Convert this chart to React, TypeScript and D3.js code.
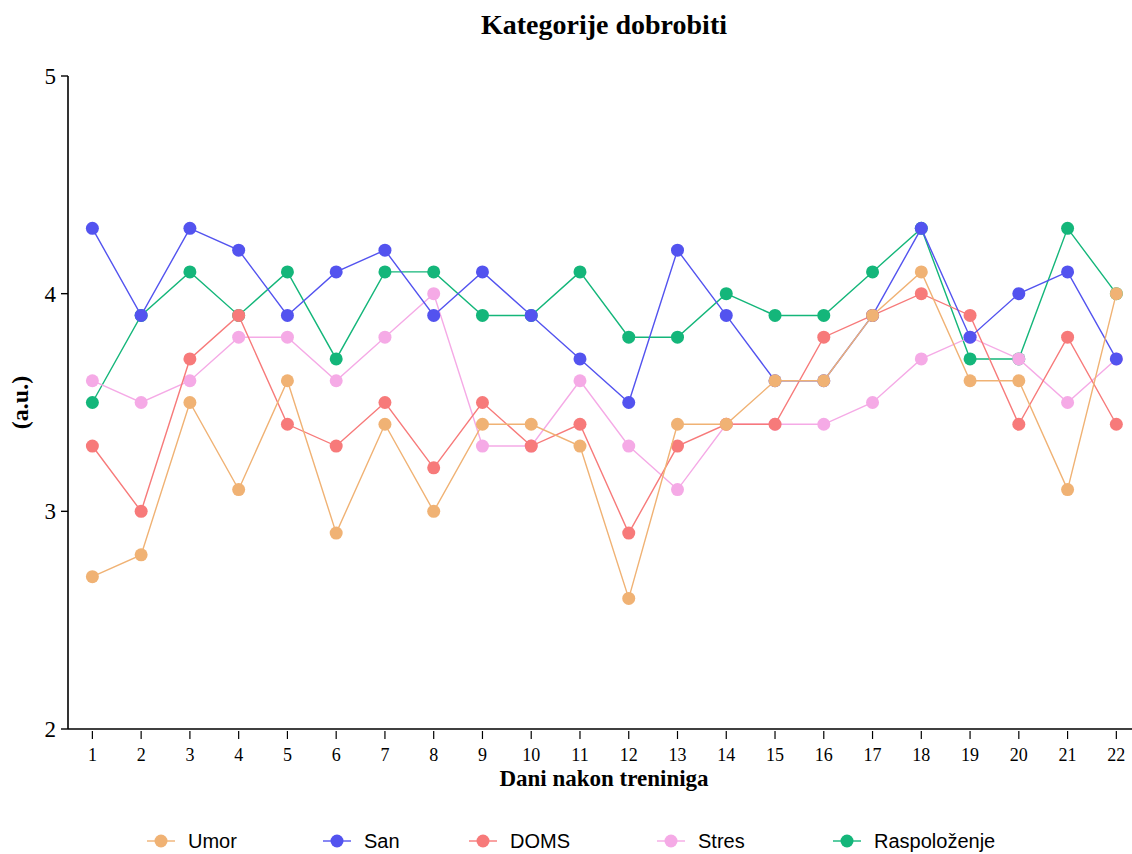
import React from 'react';
import * as d3 from 'd3';

const days = d3.range(1, 23).map(String);

const umor = [2.7, 2.8, 3.5, 3.1, 3.6, 2.9, 3.4, 3.0, 3.4, 3.4, 3.3, 2.6, 3.4, 3.4, 3.6, 3.6, 3.9, 4.1, 3.6, 3.6, 3.1, 4.0];
const san = [4.3, 3.9, 4.3, 4.2, 3.9, 4.1, 4.2, 3.9, 4.1, 3.9, 3.7, 3.5, 4.2, 3.9, 3.6, 3.6, 3.9, 4.3, 3.8, 4.0, 4.1, 3.7];
const doms = [3.3, 3.0, 3.7, 3.9, 3.4, 3.3, 3.5, 3.2, 3.5, 3.3, 3.4, 2.9, 3.3, 3.4, 3.4, 3.8, 3.9, 4.0, 3.9, 3.4, 3.8, 3.4];
const stres = [3.6, 3.5, 3.6, 3.8, 3.8, 3.6, 3.8, 4.0, 3.3, 3.3, 3.6, 3.3, 3.1, 3.4, 3.4, 3.4, 3.5, 3.7, 3.8, 3.7, 3.5, 3.7];
const raspolozenje = [3.5, 3.9, 4.1, 3.9, 4.1, 3.7, 4.1, 4.1, 3.9, 3.9, 4.1, 3.8, 3.8, 4.0, 3.9, 3.9, 4.1, 4.3, 3.7, 3.7, 4.3, 4.0];

const yTicks = [2, 3, 4, 5];

const series = [
    { name: 'Umor', values: umor, color: '#f0b274' },
    { name: 'San', values: san, color: '#5353ef' },
    { name: 'DOMS', values: doms, color: '#f77a7a' },
    { name: 'Stres', values: stres, color: '#f5aae6' },
    { name: 'Raspoloženje', values: raspolozenje, color: '#14b67a' }
];

// legend slots, left x of each marker line
const legendX = [147, 323, 469, 657, 833];

export default function App() {
    const width = 1132;
    const height = 854;
    const left = 68;
    const top = 76;
    const bottom = 729;

    const x = d3.scaleBand<string>().domain(days).range([left, left + 22 * 48.76]);
    const y = d3.scaleLinear().domain([2, 5]).range([bottom, top]);
    const cx = (d: string) => (x(d) ?? 0) + x.bandwidth() / 2;

    const line = d3.line<number>()
        .x((_, i) => cx(days[i]))
        .y((v) => y(v));

    const serif = '"Liberation Serif", "DejaVu Serif", serif';
    const sans = '"Liberation Sans", Arial, sans-serif';

    // draw last series first so Umor ends up on top
    const drawOrder = [...series].reverse();

    return (
        <svg width={width} height={height} style={{ position: 'absolute', left: 0, top: 0 }}>
            <rect width={width} height={height} fill="#fff" />
            <text x={604} y={34} textAnchor="middle" fontFamily={serif} fontWeight="bold" fontSize={28}>
                Kategorije dobrobiti
            </text>

            {drawOrder.map((s) => (
                <g key={s.name}>
                    <path d={line(s.values) ?? ''} fill="none" stroke={s.color} strokeWidth={1.4} />
                    {s.values.map((v, i) => (
                        <circle key={i} cx={cx(days[i])} cy={y(v)} r={6.5} fill={s.color} />
                    ))}
                </g>
            ))}

            {/* y axis */}
            <line x1={left} x2={left} y1={top} y2={bottom} stroke="#000" strokeWidth={1.6} />
            {yTicks.map((t) => (
                <g key={t}>
                    <line x1={left - 7} x2={left} y1={y(t)} y2={y(t)} stroke="#000" strokeWidth={1.4} />
                    <text x={left - 12} y={y(t) + 8} textAnchor="end" fontFamily={serif} fontSize={23}>
                        {t}
                    </text>
                </g>
            ))}

            {/* x axis */}
            <line x1={left} x2={width} y1={bottom} y2={bottom} stroke="#000" strokeWidth={1.6} />
            {days.map((d) => (
                <g key={d}>
                    <line x1={cx(d)} x2={cx(d)} y1={bottom + 2} y2={bottom + 10} stroke="#000" strokeWidth={1.2} />
                    <text x={cx(d)} y={bottom + 32} textAnchor="middle" fontFamily={serif} fontSize={18}>
                        {d}
                    </text>
                </g>
            ))}

            <text x={604} y={786} textAnchor="middle" fontFamily={serif} fontWeight="bold" fontSize={23}>
                Dani nakon treniniga
            </text>
            <text
                transform={`translate(28, ${(top + bottom) / 2}) rotate(-90)`}
                textAnchor="middle"
                fontFamily={serif}
                fontWeight="bold"
                fontSize={24}
            >
                (a.u.)
            </text>

            {series.map((s, i) => (
                <g key={s.name} transform={`translate(${legendX[i]}, 841)`}>
                    <line x1={0} x2={28} y1={0} y2={0} stroke={s.color} strokeWidth={1.4} />
                    <circle cx={14} cy={0} r={6.5} fill={s.color} />
                    <text x={41} y={7} fontFamily={sans} fontSize={20}>
                        {s.name}
                    </text>
                </g>
            ))}
        </svg>
    );
}
